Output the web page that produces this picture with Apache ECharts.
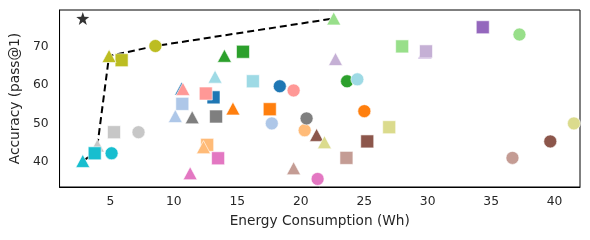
<!DOCTYPE html>
<html><head><meta charset="utf-8">
<script src="https://cdn.jsdelivr.net/npm/echarts@6/dist/echarts.min.js"></script>
<style>html,body{margin:0;padding:0;background:#fff}#c{width:590px;height:240px}</style>
</head><body><div id="c"></div>
<script>
// tab20 model order; null = marker not present
const palette = ['#1f77b4','#aec7e8','#ff7f0e','#ffbb78','#2ca02c','#98df8a','#d62728','#ff9896','#9467bd','#c5b0d5',
                 '#8c564b','#c49c94','#e377c2','#f7b6d2','#7f7f7f','#c7c7c7','#bcbd22','#dbdb8d','#17becf','#9edae5'];
const circleEnergy = [18.35,17.72,25.01,20.31,23.65,37.23,null,19.44,null,null,39.66,36.68,21.33,null,20.46,7.22,8.55,41.52,5.10,24.46];
const circleAcc    = [59.7, 50.0, 53.2, 48.2, 61.0, 73.2, null,58.6, null,null,45.3, 41.0, 35.5, null,51.3, 47.7,70.2,50.0, 42.2,61.5];
const squareEnergy = [13.13,10.67,17.56,12.63,15.45,27.99,null,12.52,34.34,29.87,25.24,23.60,13.49,null,13.33,5.29,5.89,26.97,3.77,16.23];
const squareAcc    = [56.8, 55.1, 53.7, 44.4, 68.7, 70.1, null,57.8, 75.1, 68.8, 45.3, 41.0, 40.9, null,51.8, 47.7,66.5,49.0,42.2,61.0];
const triEnergy    = [10.62,10.12,14.66,12.34,13.99,22.60,null,10.72,29.78,22.74,21.25,19.44,11.29,null,11.45,3.98,4.90,21.87,2.83,13.25];
const triAcc       = [59.1, 51.9, 53.9, 43.8, 67.65,77.4, null,59.0, 68.6, 66.8, 47.0, 38.3, 37.0, null,51.6, 44.2,67.6,45.1,40.2,62.2];
const paretoEnergy = [2.83, 3.77, 3.98, 4.90, 8.55, 22.60];
const paretoAcc    = [40.2, 42.2, 44.2, 67.6, 70.2, 77.4];
const idealPoint   = [2.83, 77.4];
const xTicks = [5,10,15,20,25,30,35,40];
const yTicks = [40,50,60,70];

const font = 'DejaVu Sans';
const starPath = 'path://M0,-10 L2.35,-3.24 L9.51,-3.09 L3.8,1.24 L5.88,8.09 L0,4 L-5.88,8.09 L-3.8,1.24 L-9.51,-3.09 L-2.35,-3.24 Z';

const series = [];
series.push({
  type:'line', data: paretoEnergy.map((e,i)=>[e,paretoAcc[i]]), symbol:'none', silent:true,
  lineStyle:{color:'#000', width:2, type:[7,4]}, z:1
});
palette.forEach((col,i)=>{
  const data = [];
  if (circleEnergy[i]!=null) data.push({value:[circleEnergy[i],circleAcc[i]], symbol:'circle', symbolSize:13});
  if (squareEnergy[i]!=null) data.push({value:[squareEnergy[i],squareAcc[i]], symbol:'rect', symbolSize:13});
  if (triEnergy[i]!=null) data.push({value:[triEnergy[i],triAcc[i]], symbol:'triangle', symbolSize:[14,13]});
  if (!data.length) return;
  series.push({type:'scatter', data, z:3, itemStyle:{color:col, borderColor:'#fff', borderWidth:0.6, opacity:1}, emphasis:{disabled:true}});
});
series.push({type:'scatter', data:[idealPoint], symbol:starPath, symbolSize:13, z:4, itemStyle:{color:'#000'}});

const chart = echarts.init(document.getElementById('c'), null, {renderer:'canvas'});
chart.setOption({
  animation:false,
  grid:{left:57, right:10, top:10, bottom:53, show:true, borderColor:'#000', borderWidth:1, backgroundColor:'transparent'},
  xAxis:{type:'value', min:1, max:42, splitLine:{show:false}, axisTick:{show:false},
    axisLine:{show:true, lineStyle:{color:'#000'}},
    axisLabel:{customValues:xTicks, color:'#262626', fontFamily:font, fontSize:12.3, margin:9,
      showMinLabel:true, showMaxLabel:true, hideOverlap:false,
      alignMinLabel:'center', alignMaxLabel:'center', align:'center'},
    name:'Energy Consumption (Wh)', nameLocation:'middle', nameGap:27,
    nameTextStyle:{color:'#262626', fontFamily:font, fontSize:13.7}},
  yAxis:{type:'value', min:33.4, max:79.6, splitLine:{show:false}, axisTick:{show:false},
    axisLine:{show:true, lineStyle:{color:'#000'}},
    axisLabel:{customValues:yTicks, color:'#262626', fontFamily:font, fontSize:12.3, margin:11,
      verticalAlignMinLabel:'middle', verticalAlignMaxLabel:'middle'},
    name:'Accuracy (pass@1)', nameLocation:'middle', nameGap:34, nameRotate:90,
    nameTextStyle:{color:'#262626', fontFamily:font, fontSize:13.7}},
  series
});
</script></body></html>
